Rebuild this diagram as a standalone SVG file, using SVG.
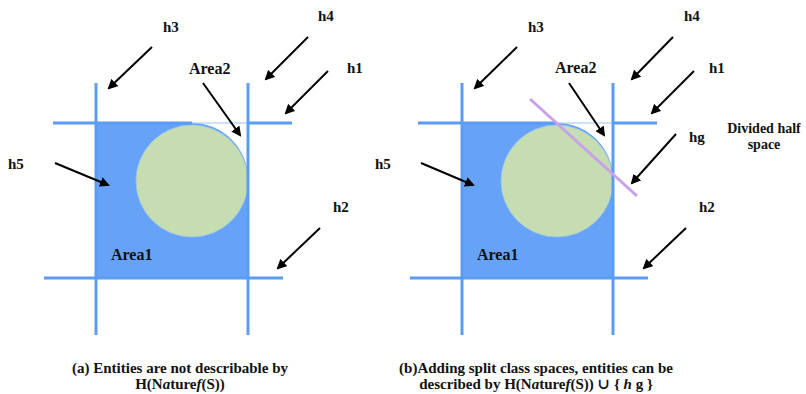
<svg xmlns="http://www.w3.org/2000/svg" width="806" height="394" viewBox="0 0 806 394">
<defs>
<marker id="ah" markerWidth="10" markerHeight="10" refX="8" refY="5" orient="auto" markerUnits="userSpaceOnUse" viewBox="0 0 10 10">
<path d="M0,0 L10,5 L0,10 z" fill="#000"/>
</marker>
<style>
text{font-family:'Liberation Serif','DejaVu Serif',serif;font-weight:bold;fill:#111}
.t{font-size:15px}
.area{font-size:16px}
.dh{font-size:14px}
.cap{font-size:15px}
.ln{stroke:#5b9cf4;stroke-width:3;fill:none}
.ar{stroke:#000;stroke-width:2;fill:none;marker-end:url(#ah)}
.reg{fill:#66a3f8}
.cir{fill:#c5ddb1;stroke:#9cc4ec;stroke-width:0.8}
.thin{stroke:#9cc4f6;stroke-width:1.2;fill:none}
</style>
</defs>
<rect width="806" height="394" fill="#fff"/>

<g id="panel-a">
<g id="a-area1">
<path class="reg" d="M96,123 H192 A56,56 0 0 1 248,179 V278 H96 Z"/>
<path class="thin" d="M192,123 H248 V179"/>
<circle class="cir" cx="192" cy="181" r="56"/>
</g>
<g id="a-lines">
<line class="ln" x1="96" y1="83" x2="96" y2="335"/>
<line class="ln" x1="248" y1="83" x2="248" y2="335"/>
<line class="ln" x1="53" y1="123" x2="192" y2="123"/>
<line class="ln" x1="248" y1="123" x2="292" y2="123"/>
<line class="ln" x1="44" y1="278" x2="283" y2="278"/>
</g>
<g id="a-labels">
<text class="t" x="163" y="32">h3</text>
<text class="t" x="318" y="21">h4</text>
<text class="t" x="347" y="73">h1</text>
<text class="area" x="189" y="74">Area2</text>
<text class="t" x="8" y="169">h5</text>
<text class="t" x="333" y="212">h2</text>
<text class="area" x="111" y="260">Area1</text>
</g>
</g>

<g id="panel-b">
<g id="b-area1">
<path class="reg" d="M462,123 H557 A56,56 0 0 1 613,179 V278 H462 Z"/>
<path class="thin" d="M557,123 H613 V179"/>
<circle class="cir" cx="557" cy="181" r="56"/>
</g>
<g id="b-lines">
<line class="ln" x1="462" y1="83" x2="462" y2="335"/>
<line class="ln" x1="613" y1="83" x2="613" y2="335"/>
<line class="ln" x1="418" y1="123" x2="557" y2="123"/>
<line class="ln" x1="613" y1="123" x2="657" y2="123"/>
<line class="ln" x1="410" y1="278" x2="648" y2="278"/>
</g>
<g id="hg-line">
<line x1="530" y1="99" x2="637" y2="196" stroke="#c9a0ea" stroke-width="3"/>
</g>
<g id="b-labels">
<text class="t" x="528" y="32">h3</text>
<text class="t" x="684" y="21">h4</text>
<text class="t" x="709" y="73">h1</text>
<text class="area" x="555" y="73">Area2</text>
<text class="t" x="689" y="142">hg</text>
<text class="dh" x="764" y="133" text-anchor="middle">Divided half</text>
<text class="dh" x="764" y="149" text-anchor="middle">space</text>
<text class="t" x="375" y="169">h5</text>
<text class="t" x="699" y="212">h2</text>
<text class="area" x="477" y="260">Area1</text>
</g>
</g>

<g id="connectors">
<line class="ar" x1="152" y1="47" x2="109" y2="88"/>
<line class="ar" x1="308" y1="37" x2="266" y2="79"/>
<line class="ar" x1="328" y1="71" x2="286" y2="113"/>
<line class="ar" x1="203" y1="83" x2="240" y2="135"/>
<line class="ar" x1="55" y1="163" x2="108" y2="185"/>
<line class="ar" x1="320" y1="228" x2="278" y2="268"/>

<line class="ar" x1="517" y1="47" x2="475" y2="88"/>
<line class="ar" x1="673" y1="37" x2="632" y2="79"/>
<line class="ar" x1="694" y1="71" x2="652" y2="113"/>
<line class="ar" x1="569" y1="83" x2="604" y2="135"/>
<line class="ar" x1="676" y1="134" x2="632" y2="183"/>
<line class="ar" x1="421" y1="163" x2="473" y2="185"/>
<line class="ar" x1="686" y1="228" x2="644" y2="268"/>
</g>

<g id="captions">
<text class="cap" x="180" y="373" text-anchor="middle">(a) Entities are not describable by</text>
<text class="cap" x="180" y="389" text-anchor="middle">H(N<tspan font-style="italic">a</tspan>ture<tspan font-style="italic">f</tspan>(S))</text>
<text class="cap" x="536" y="373" text-anchor="middle">(b)Adding split class spaces, entities can be</text>
<text class="cap" x="536" y="389" text-anchor="middle">described by H(N<tspan font-style="italic">a</tspan>ture<tspan font-style="italic">f</tspan>(S)) ∪ { <tspan font-style="italic">h</tspan> g }</text>
</g>
</svg>
